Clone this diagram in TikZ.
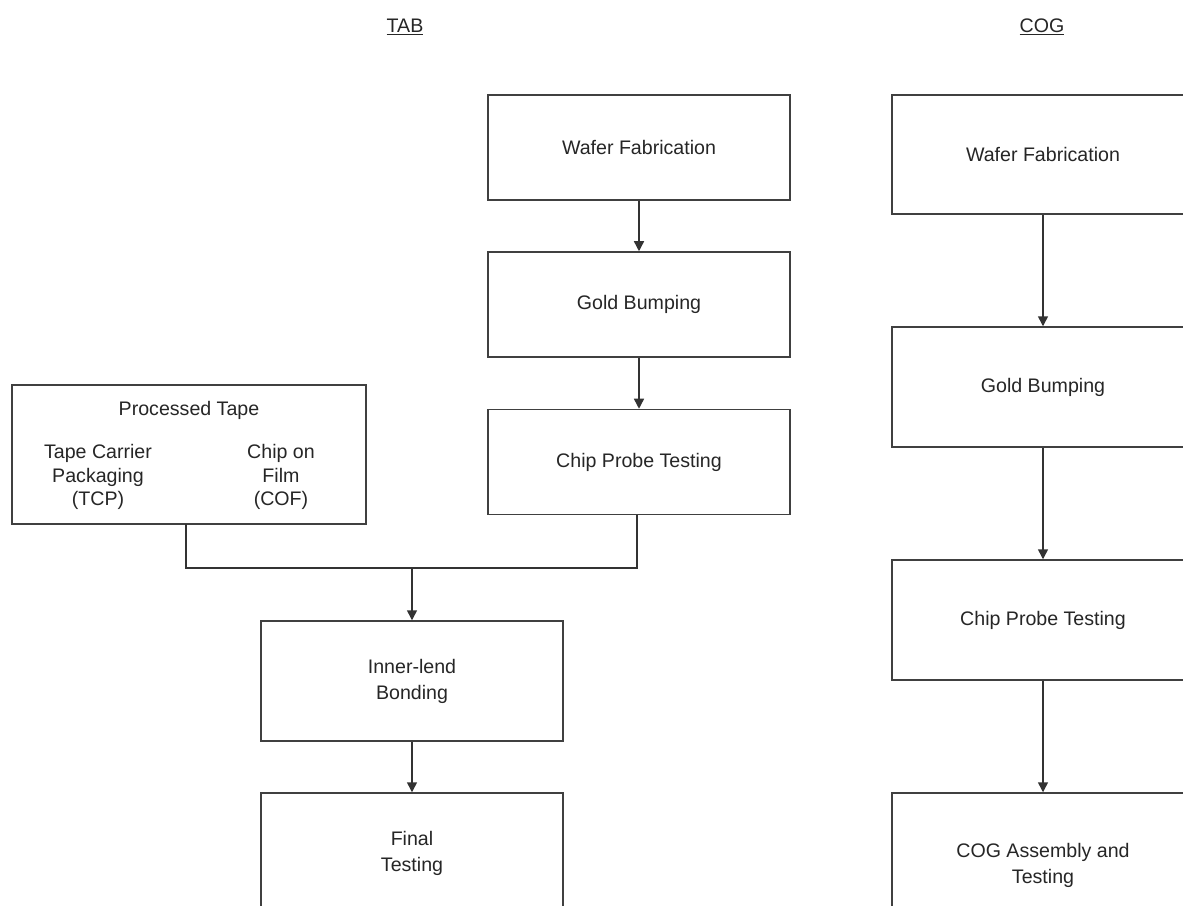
\documentclass[tikz,border=0pt]{standalone}
\usepackage{fontspec}
\setmainfont{Liberation Sans}
\usetikzlibrary{arrows.meta}

\begin{document}
\begin{tikzpicture}[x=0.75pt, y=-0.75pt,
    every node/.style={font=\fontsize{14.7}{19.5}\selectfont, text=black!85},
    stepbox/.style={draw=black!75, line width=1.1pt, minimum width=226.5pt, align=center, inner sep=0pt},
    flow/.style={draw=black!80, line width=1.1pt, -{Triangle[width=7.5pt, length=7.5pt]}},
    link/.style={draw=black!80, line width=1.1pt}]
    \clip (0,0) rectangle (1183,906);
    \fill[white] (0,0) rectangle (1183,906);

    % headings
    \node (tab) at (405,27) {\underline{TAB}};
    \node (cog) at (1042,27) {\underline{COG}};

    % TAB flow
    \node[stepbox, minimum height=78.8pt] (wf1) at (639,147.5) {Wafer Fabrication};
    \node[stepbox, minimum height=78.8pt] (gb1) at (639,304.5) {Gold Bumping};
    \node[stepbox, minimum height=78.8pt] (cpt1) at (639,462) {Chip Probe Testing};
    \node[stepbox, minimum width=265.5pt, minimum height=104pt] (tape) at (189,454.5) {};
    \node (tapetitle) at (189,410) {Processed Tape};
    \node[align=center, font=\fontsize{14.7}{17.6}\selectfont] (tcp) at (98,477) {Tape Carrier\\Packaging\\(TCP)};
    \node[align=center, font=\fontsize{14.7}{17.6}\selectfont] (cof) at (281,477) {Chip on\\Film\\(COF)};
    \node[stepbox, minimum height=90pt] (ilb) at (412,681) {Inner-lend\\Bonding};
    \node[stepbox, minimum height=90pt] (ft) at (412,853) {Final\\Testing};

    \coordinate (merge) at (412,568);
    \coordinate (tapeout) at (186,524);
    \draw[flow] (wf1) -- (gb1);
    \draw[flow] (gb1) -- (cpt1);
    \draw[link] (tapeout) |- (merge) -| ([xshift=-1.5pt]cpt1.south);
    \draw[flow] (merge) -- (ilb);
    \draw[flow] (ilb) -- (ft);

    % COG flow
    \node[stepbox, minimum height=89.3pt] (wf2) at (1043,154.5) {Wafer Fabrication};
    \node[stepbox, minimum height=90pt] (gb2) at (1043,387) {Gold Bumping};
    \node[stepbox, minimum height=90pt] (cpt2) at (1043,620) {Chip Probe Testing};
    \node[stepbox, minimum height=108pt] (asm) at (1043,865) {COG Assembly and\\Testing};

    \draw[flow] (wf2) -- (gb2);
    \draw[flow] (gb2) -- (cpt2);
    \draw[flow] (cpt2) -- (asm);
\end{tikzpicture}
\end{document}
